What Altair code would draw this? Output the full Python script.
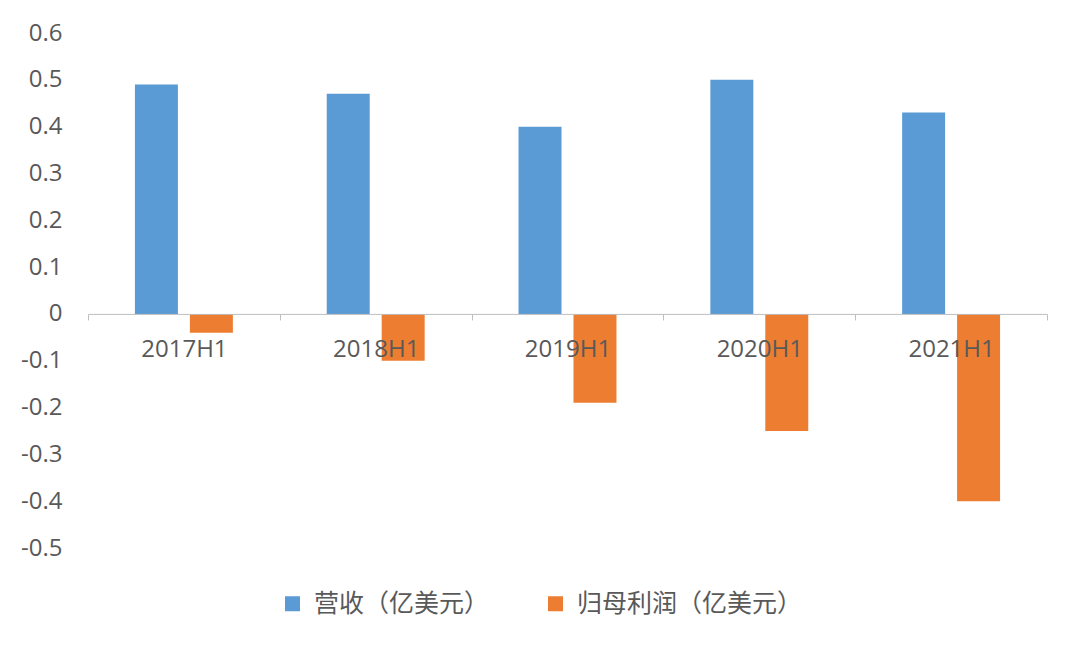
import altair as alt
import pandas as pd

# ---- data ----
periods = ["2017H1", "2018H1", "2019H1", "2020H1", "2021H1"]
revenue = [0.49, 0.47, 0.40, 0.50, 0.43]
profit = [-0.04, -0.10, -0.19, -0.25, -0.40]
series_names = ["营收（亿美元）", "归母利润（亿美元）"]
series_colors = ["#5B9BD5", "#ED7D31"]
y_ticks = [-0.5, -0.4, -0.3, -0.2, -0.1, 0, 0.1, 0.2, 0.3, 0.4, 0.5, 0.6]

rows = []
for p, r, q in zip(periods, revenue, profit):
    rows.append({"period": p, "series": series_names[0], "value": r})
    rows.append({"period": p, "series": series_names[1], "value": q})
df = pd.DataFrame(rows)

W, H = 959, 515
Y_MIN, Y_MAX = -0.5, 0.6
zero_from_bottom = H * (0 - Y_MIN) / (Y_MAX - Y_MIN)
FONT = "Open Sans, Noto Sans CJK SC, sans-serif"
CJK = "Noto Sans CJK SC, sans-serif"
TXT = "#595959"

bars = alt.Chart(df).mark_bar().encode(
    x=alt.X(
        "period:N", sort=periods,
        scale=alt.Scale(paddingInner=0, paddingOuter=0),
        axis=alt.Axis(
            title=None, orient="bottom", offset=-zero_from_bottom,
            tickBand="extent", labelAngle=0, domainColor="#BFBFBF",
            tickColor="#BFBFBF", tickSize=6, labelPadding=18,
            labelFontSize=24, labelFont=FONT, labelColor=TXT, zindex=1,
        ),
    ),
    xOffset=alt.XOffset(
        "series:N", sort=series_names,
        scale=alt.Scale(paddingInner=0.218, paddingOuter=0.854),
    ),
    y=alt.Y(
        "value:Q",
        scale=alt.Scale(domain=[Y_MIN, Y_MAX], nice=False),
        axis=alt.Axis(
            title=None, values=y_ticks, domain=False, ticks=False, grid=False,
            labelPadding=26, labelFontSize=24, labelFont=FONT, labelColor=TXT,
            labelExpr="datum.value == 0 ? '0' : toString(round(datum.value*10)/10)",
        ),
    ),
    color=alt.Color(
        "series:N", sort=series_names,
        scale=alt.Scale(domain=series_names, range=series_colors),
        legend=alt.Legend(
            title=None, orient="none", legendX=192, legendY=558,
            direction="horizontal", symbolType="square", symbolSize=225,
            symbolStrokeWidth=0, labelFontSize=25, labelFont=CJK,
            labelColor=TXT, columnPadding=53, labelOffset=9, labelLimit=0,
        ),
    ),
)

chart = bars.properties(
    width=W, height=H,
    autosize=alt.AutoSizeParams(type="none"),
    padding={"left": 80, "top": 25, "right": 25, "bottom": 94},
).configure(background="white").configure_view(stroke=None)

chart.save("out.html", embed_options={"renderer": "svg", "actions": False})
